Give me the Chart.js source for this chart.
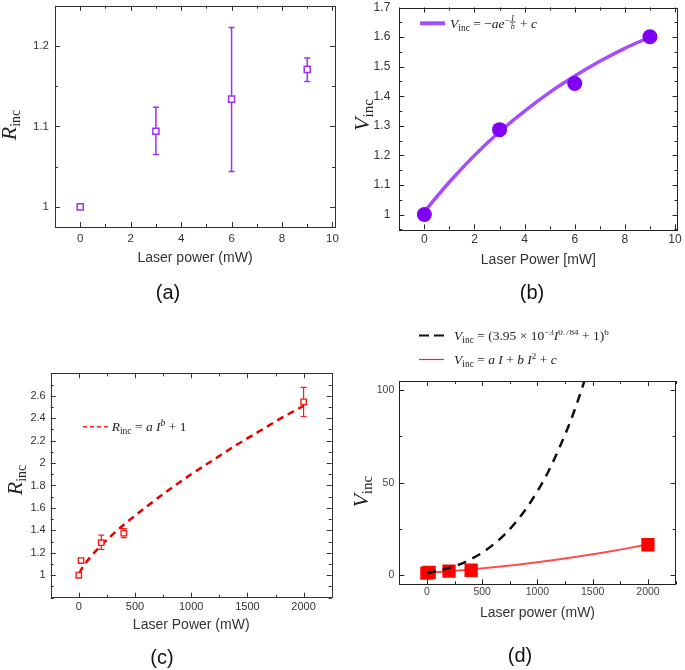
<!DOCTYPE html>
<html><head><meta charset="utf-8">
<script src="https://cdn.jsdelivr.net/npm/chart.js@4.4.1/dist/chart.umd.min.js"></script>
<style>
html,body{margin:0;padding:0;background:#fff;}
body{width:685px;height:670px;position:relative;overflow:hidden;}
canvas{position:absolute;}
</style></head><body>
<canvas id="ca" width="342" height="330" style="left:0;top:0;width:342px;height:330px"></canvas>
<canvas id="cb" width="343" height="330" style="left:342px;top:0;width:343px;height:330px"></canvas>
<canvas id="cc" width="342" height="340" style="left:0;top:330px;width:342px;height:340px"></canvas>
<canvas id="cd" width="343" height="340" style="left:342px;top:330px;width:343px;height:340px"></canvas>
<script>
// ---------- DATA ----------
// (a) R_inc vs laser power (mW)
const aPower = [0, 3, 6, 9];
const aRinc = [1.0, 1.094, 1.134, 1.171];
const aErrLow = [1.0, 1.065, 1.044, 1.156];
const aErrHigh = [1.0, 1.124, 1.223, 1.185];
const aXTicks = [0, 2, 4, 6, 8, 10];
const aYTicks = [1, 1.1, 1.2];

// (b) V_inc vs laser power (mW)
const bPower = [0, 3, 6, 9];
const bVinc = [1.0, 1.287, 1.443, 1.601];
const bFitPower = [0, 1, 2, 3, 4, 5, 6, 7, 8, 9];
const bFitVinc = [1.01, 1.11, 1.20, 1.28, 1.35, 1.413, 1.468, 1.518, 1.562, 1.60];
const bXTicks = [0, 2, 4, 6, 8, 10];
const bYTicks = [1, 1.1, 1.2, 1.3, 1.4, 1.5, 1.6, 1.7];

// (c) R_inc vs laser power (mW)
const cPower = [0, 20, 200, 400, 2000];
const cRinc = [1.0, 1.131, 1.29, 1.375, 2.546];
const cErrLow = [1.0, 1.11, 1.23, 1.335, 2.415];
const cErrHigh = [1.0, 1.15, 1.357, 1.415, 2.675];
const cFitPower = [5, 20, 50, 100, 200, 300, 400, 600, 800, 1000, 1200, 1400, 1600, 1800, 2000];
const cFitRinc = [1.017, 1.047, 1.094, 1.159, 1.266, 1.362, 1.45, 1.61, 1.76, 1.90, 2.03, 2.16, 2.28, 2.40, 2.51];
const cXTicks = [0, 500, 1000, 1500, 2000];
const cYTicks = [1, 1.2, 1.4, 1.6, 1.8, 2, 2.2, 2.4, 2.6];

// (d) V_inc vs laser power (mW)
const dPower = [0, 20, 200, 400, 2000];
const dVinc = [1.0, 1.45, 2.15, 2.6, 16.4];
const dQuadPower = [0, 200, 400, 600, 800, 1000, 1200, 1400, 1600, 1800, 2000];
const dQuadVinc = [1.3, 2.1, 3.05, 4.17, 5.45, 6.9, 8.5, 10.3, 12.2, 14.3, 16.6];
const dPowPower = [0, 100, 200, 300, 400, 500, 600, 700, 800, 900, 1000, 1100, 1200, 1300, 1400, 1450];
const dPowVinc = [1.0, 2.3, 3.8, 5.9, 8.7, 12.1, 16.5, 21.8, 28.3, 36.1, 45.4, 56.2, 69.1, 83.4, 100.4, 110];
const dXTicks = [0, 500, 1000, 1500, 2000];
const dYTicks = [0, 50, 100];

// ---------- HELPERS ----------
const SANS = '"Liberation Sans", Arial, sans-serif';
const SERIF = '"Liberation Serif", "Times New Roman", serif';
const pts = (xs, ys) => xs.map((x, i) => ({x, y: ys[i]}));

function parts(ctx, x, y, list, draw) {
  let cx = x;
  for (const p of list) {
    if (p.frac) {
      ctx.font = `italic ${p.s}px ${SERIF}`;
      const w1 = ctx.measureText(p.frac[0]).width, w2 = ctx.measureText(p.frac[1]).width;
      const w = Math.max(w1, w2) + 2;
      const cy = y + (p.dy || 0);
      if (draw) {
        ctx.fillText(p.frac[0], cx + (w - w1) / 2, cy - 1.5);
        ctx.fillText(p.frac[1], cx + (w - w2) / 2, cy + 1.2 + p.s * 0.72);
        ctx.fillRect(cx, cy - 0.4, w, 0.8);
      }
      cx += w + 1;
      continue;
    }
    ctx.font = `${p.i ? 'italic ' : ''}${p.s}px ${SERIF}`;
    if (draw) ctx.fillText(p.t, cx, y + (p.dy || 0));
    cx += ctx.measureText(p.t).width;
  }
  return cx - x;
}

const deco = {
  id: 'deco',
  beforeDatasetsDraw(chart) {
    const ctx = chart.ctx, xs = chart.scales.x, ys = chart.scales.y;
    chart.data.datasets.forEach(ds => {
      if (!ds.errLow) return;
      ctx.save();
      ctx.strokeStyle = ds.errColor; ctx.lineWidth = ds.errWidth || 1.5;
      const cap = ds.errCap || 3;
      ds.data.forEach((p, j) => {
        const lo = ds.errLow[j], hi = ds.errHigh[j];
        if (hi - lo <= 0) return;
        const x = xs.getPixelForValue(p.x), y1 = ys.getPixelForValue(lo), y2 = ys.getPixelForValue(hi);
        ctx.beginPath();
        ctx.moveTo(x, y1); ctx.lineTo(x, y2);
        ctx.moveTo(x - cap, y1); ctx.lineTo(x + cap, y1);
        ctx.moveTo(x - cap, y2); ctx.lineTo(x + cap, y2);
        ctx.stroke();
      });
      ctx.restore();
    });
  },
  afterDraw(chart) {
    const cfg = DECO[chart.canvas.id];
    const ctx = chart.ctx, a = chart.chartArea, xs = chart.scales.x, ys = chart.scales.y;
    ctx.save();
    // frame
    ctx.strokeStyle = cfg.frame; ctx.lineWidth = 1;
    ctx.strokeRect(Math.round(a.left) + 0.5, Math.round(a.top) + 0.5, Math.round(a.right - a.left), Math.round(a.bottom - a.top));
    // ticks
    ctx.beginPath();
    const tickX = (v, len) => {
      const x = Math.round(xs.getPixelForValue(v)) + 0.5;
      ctx.moveTo(x, a.bottom); ctx.lineTo(x, a.bottom - len);
      ctx.moveTo(x, a.top); ctx.lineTo(x, a.top + len);
    };
    const tickY = (v, len) => {
      const y = Math.round(ys.getPixelForValue(v)) + 0.5;
      ctx.moveTo(a.left, y); ctx.lineTo(a.left + len, y);
      ctx.moveTo(a.right, y); ctx.lineTo(a.right - len, y);
    };
    const majX = xs.ticks.map(t => t.value), majY = ys.ticks.map(t => t.value);
    majX.forEach(v => tickX(v, cfg.major));
    majY.forEach(v => tickY(v, cfg.major));
    for (let k = Math.ceil(xs.min / cfg.xMinor); k * cfg.xMinor <= xs.max; k++) {
      const v = k * cfg.xMinor;
      if (!majX.some(m => Math.abs(m - v) < 1e-9 * (1 + Math.abs(v)))) tickX(v, cfg.minor);
    }
    for (let k = Math.ceil(ys.min / cfg.yMinor - 1e-9); k * cfg.yMinor <= ys.max + 1e-9; k++) {
      const v = k * cfg.yMinor;
      if (!majY.some(m => Math.abs(m - v) < 1e-6)) tickY(v, cfg.minor);
    }
    ctx.stroke();
    // y title (rotated)
    ctx.fillStyle = '#222';
    ctx.textAlign = 'left'; ctx.textBaseline = 'alphabetic';
    ctx.save();
    ctx.translate(cfg.yTitle.x, cfg.yTitle.y);
    ctx.rotate(-Math.PI / 2);
    const w = parts(ctx, 0, 0, cfg.yTitle.parts, false);
    parts(ctx, -w / 2, 7, cfg.yTitle.parts, true);
    ctx.restore();
    // legend
    (cfg.legend || []).forEach(L => {
      ctx.save();
      ctx.strokeStyle = L.color; ctx.lineWidth = L.width;
      ctx.setLineDash(L.dash || []);
      ctx.beginPath(); ctx.moveTo(L.x1, L.y); ctx.lineTo(L.x2, L.y); ctx.stroke();
      ctx.restore();
      ctx.fillStyle = '#222';
      parts(ctx, L.tx, L.ty, L.parts, true);
    });
    // panel label
    ctx.fillStyle = '#111';
    ctx.font = `20px ${SANS}`;
    ctx.textAlign = 'center'; ctx.textBaseline = 'middle';
    ctx.fillText(cfg.panel.t, cfg.panel.x, cfg.panel.y);
    ctx.restore();
  }
};

const DECO = {
  ca: { frame: '#333', major: 5, minor: 3, xMinor: 1, yMinor: 0.05,
        yTitle: {x: 9, y: 125, parts: [{t: 'R', s: 22, i: 1}, {t: 'inc', s: 14, dy: 4}]},
        panel: {t: '(a)', x: 168, y: 293} },
  cb: { frame: '#222', major: 5, minor: 3, xMinor: 1, yMinor: 0.05,
        yTitle: {x: 19.5, y: 115, parts: [{t: 'V', s: 22, i: 1}, {t: 'inc', s: 15, dy: 4}]},
        legend: [{x1: 78, x2: 103, y: 23.3, color: '#a64dff', width: 4,
                  tx: 108, ty: 28, parts: [{t: 'V', s: 13.5, i: 1}, {t: 'inc', s: 9.5, dy: 3}, {t: ' = −', s: 13.5},
                  {t: 'ae', s: 13.5, i: 1}, {t: '−', s: 9, dy: -5}, {frac: ['I', 'b'], s: 8, dy: -6}, {t: ' + ', s: 13.5}, {t: 'c', s: 13.5, i: 1}]}],
        panel: {t: '(b)', x: 190, y: 293} },
  cc: { frame: '#333', major: 5, minor: 3, xMinor: 250, yMinor: 0.1,
        yTitle: {x: 15, y: 150, parts: [{t: 'R', s: 22, i: 1}, {t: 'inc', s: 14, dy: 4}]},
        legend: [{x1: 83, x2: 108, y: 96.7, color: '#ff2020', width: 1.5, dash: [4, 3],
                  tx: 111.7, ty: 101, parts: [{t: 'R', s: 13.5, i: 1}, {t: 'inc', s: 9.5, dy: 3}, {t: ' = ', s: 13.5},
                  {t: 'a I', s: 13.5, i: 1}, {t: 'b', s: 9.5, i: 1, dy: -5}, {t: ' + 1', s: 13.5}]}],
        panel: {t: '(c)', x: 162, y: 328} },
  cd: { frame: '#222', major: 5, minor: 3, xMinor: 250, yMinor: 25,
        yTitle: {x: 19, y: 161.7, parts: [{t: 'V', s: 22, i: 1}, {t: 'inc', s: 15, dy: 4}]},
        legend: [{x1: 77, x2: 102, y: 5.5, color: '#111', width: 2, dash: [10, 5],
                  tx: 112, ty: 10, parts: [{t: 'V', s: 13.5, i: 1}, {t: 'inc', s: 9.5, dy: 3}, {t: ' = (3.95 × 10', s: 13.5},
                  {t: '−3', s: 9, dy: -5}, {t: 'I', s: 13.5, i: 1}, {t: '0.784', s: 9, dy: -5}, {t: ' + 1)', s: 13.5}, {t: '6', s: 9, dy: -5}]},
                 {x1: 77, x2: 102, y: 29.5, color: '#ff2020', width: 1.2,
                  tx: 112, ty: 34, parts: [{t: 'V', s: 13.5, i: 1}, {t: 'inc', s: 9.5, dy: 3}, {t: ' = ', s: 13.5},
                  {t: 'a I', s: 13.5, i: 1}, {t: ' + ', s: 13.5}, {t: 'b I', s: 13.5, i: 1}, {t: '2', s: 9, dy: -5}, {t: ' + ', s: 13.5}, {t: 'c', s: 13.5, i: 1}]}],
        panel: {t: '(d)', x: 178, y: 326} }
};

function options(c) {
  return {
    responsive: false, animation: false, events: [],
    layout: {padding: {left: 0, top: c.T, right: c.R, bottom: 0}},
    plugins: {legend: {display: false}, tooltip: {enabled: false}},
    scales: {
      x: {
        type: 'linear', min: c.xMin, max: c.xMax,
        grid: {display: false, drawTicks: false}, border: {display: false},
        afterBuildTicks: s => { s.ticks = c.xTicks.map(v => ({value: v})); },
        afterFit: s => { s.height = c.xH; s.paddingLeft = 0; s.paddingRight = 0; },
        ticks: {padding: c.xPad, autoSkip: false, maxRotation: 0, font: {family: SANS, size: c.tickSize}, color: c.tickColor, callback: v => String(v)},
        title: {display: true, text: c.xTitle, color: '#333', font: {family: SANS, size: 14}, padding: {top: 0, bottom: c.titlePad}}
      },
      y: {
        type: 'linear', min: c.yMin, max: c.yMax,
        grid: {display: false, drawTicks: false}, border: {display: false},
        afterBuildTicks: s => { s.ticks = c.yTicks.map(v => ({value: v})); },
        afterFit: s => { s.width = c.yW; s.paddingTop = 0; s.paddingBottom = 0; },
        ticks: {padding: c.yPad, autoSkip: false, font: {family: SANS, size: c.tickSize}, color: c.tickColor, callback: v => String(v)}
      }
    }
  };
}

Chart.register(deco);

// (a)
new Chart(document.getElementById('ca'), {
  type: 'scatter',
  data: {datasets: [{
    data: pts(aPower, aRinc), pointStyle: 'rect', pointRadius: 4.3, pointBorderWidth: 1.5,
    pointBackgroundColor: '#fff', pointBorderColor: '#9b30ff',
    errLow: aErrLow, errHigh: aErrHigh, errColor: '#9b30ff', errCap: 3, errWidth: 1.5
  }]},
  options: options({T: 2.5, R: 7, yW: 55, xH: 103, xMin: -1, xMax: 10.1, yMin: 0.975, yMax: 1.25,
    xTicks: aXTicks, yTicks: aYTicks, xPad: 4.5, yPad: 6, tickSize: 11.5, tickColor: '#333',
    xTitle: 'Laser power (mW)', titlePad: 63.6})
});

// (b)
new Chart(document.getElementById('cb'), {
  type: 'scatter',
  data: {datasets: [
    {data: pts(bPower, bVinc), pointStyle: 'circle', pointRadius: 7.5, pointBorderWidth: 0,
     pointBackgroundColor: '#8000f5', pointBorderColor: '#8000f5'},
    {data: pts(bFitPower, bFitVinc), showLine: true, pointRadius: 0, borderColor: '#a64dff', borderWidth: 3.5,
     cubicInterpolationMode: 'monotone'}
  ]},
  options: options({T: 5, R: 6, yW: 57.3, xH: 100.7, xMin: -1, xMax: 10.1, yMin: 0.95, yMax: 1.7,
    xTicks: bXTicks, yTicks: bYTicks, xPad: 3, yPad: 9, tickSize: 12, tickColor: '#333',
    xTitle: 'Laser Power [mW]', titlePad: 61.6})
});

// (c)
new Chart(document.getElementById('cc'), {
  type: 'scatter',
  data: {datasets: [
    {data: pts(cPower, cRinc), pointStyle: 'rect', pointRadius: 3.8, pointBorderWidth: 1.4,
     pointBackgroundColor: '#fff', pointBorderColor: '#ff1a1a',
     errLow: cErrLow, errHigh: cErrHigh, errColor: '#ff1a1a', errCap: 3, errWidth: 1.2},
    {data: pts(cFitPower, cFitRinc), showLine: true, pointRadius: 0, borderColor: '#e60000', borderWidth: 2.5,
     borderDash: [7, 5], cubicInterpolationMode: 'monotone'}
  ]},
  options: options({T: 43.3, R: 10.3, yW: 50.7, xH: 72.3, xMin: -250, xMax: 2250, yMin: 0.8, yMax: 2.8,
    xTicks: cXTicks, yTicks: cYTicks, xPad: 3, yPad: 5, tickSize: 11, tickColor: '#333',
    xTitle: 'Laser Power (mW)', titlePad: 36.6})
});

// (d)
new Chart(document.getElementById('cd'), {
  type: 'scatter',
  data: {datasets: [
    {data: pts(dPowPower, dPowVinc), showLine: true, pointRadius: 0, borderColor: '#111', borderWidth: 2.5,
     borderDash: [9, 7], cubicInterpolationMode: 'monotone'},
    {data: pts(dPower, dVinc), pointStyle: 'rect', pointRadius: 9.4, pointBorderWidth: 0,
     pointBackgroundColor: '#ff0000', pointBorderColor: '#ff0000'},
    {data: pts(dQuadPower, dQuadVinc), showLine: true, pointRadius: 0, borderColor: '#ff4d4d', borderWidth: 2,
     cubicInterpolationMode: 'monotone'}
  ]},
  options: options({T: 51, R: 5.7, yW: 57.3, xH: 85.7, xMin: -250, xMax: 2250, yMin: -5, yMax: 105,
    xTicks: dXTicks, yTicks: dYTicks, xPad: 1.5, yPad: 5, tickSize: 10.5, tickColor: '#444',
    xTitle: 'Laser power (mW)', titlePad: 48.9})
});
</script>
</body></html>
